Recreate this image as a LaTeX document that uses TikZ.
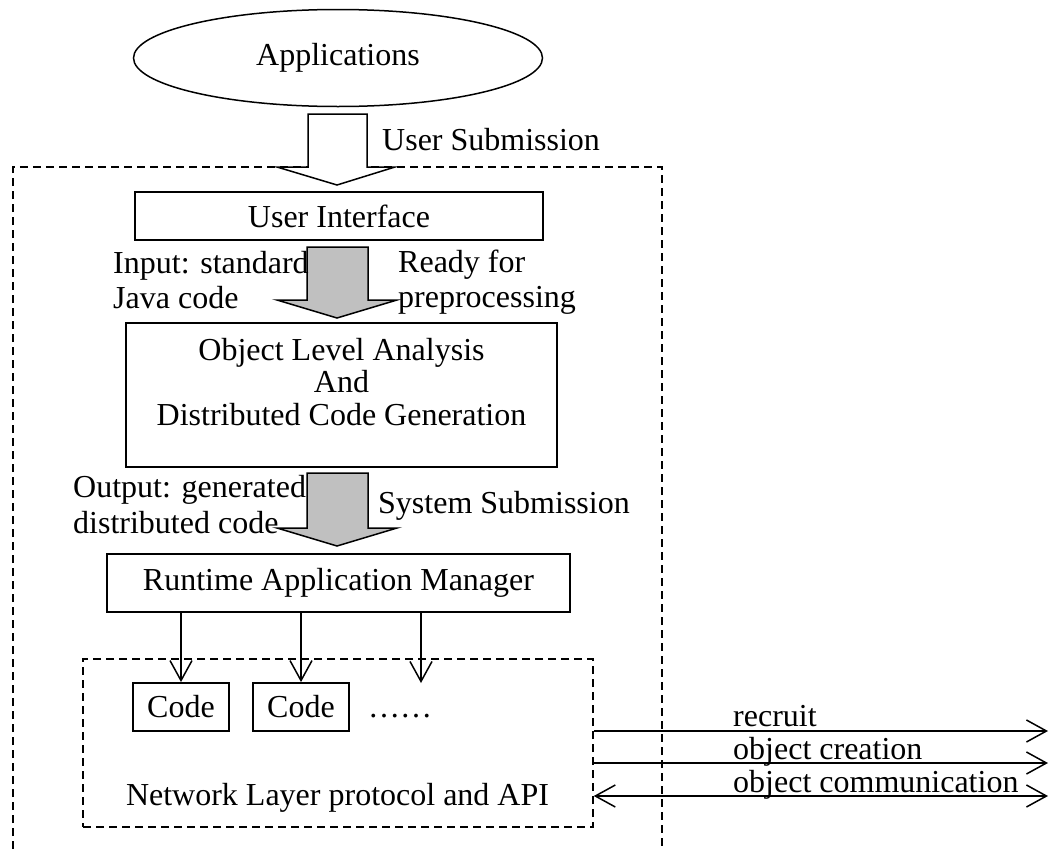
\documentclass[tikz,border=0pt]{standalone}
\usepackage{fontspec}
\setmainfont{Liberation Serif}
\usetikzlibrary{shapes.geometric,arrows.meta}
\definecolor{arrowgray}{RGB}{192,192,192}
\begin{document}
\begin{tikzpicture}[x=1pt,y=-1pt,
  every node/.style={font=\fontsize{32}{32.5}\selectfont},
  box/.style={draw,line width=1.8pt,inner sep=0pt},
  lbl/.style={anchor=base west,inner sep=0pt},
  dashbox/.style={draw,line width=1.5pt,dash pattern=on 8pt off 5pt},
  blockarrow/.style={draw,line width=1.5pt,line join=miter},
  conn/.style={line width=1.5pt,-{Straight Barb[length=20pt,width=22pt,line width=1.5pt]}},
  dconn/.style={line width=1.5pt,{Straight Barb[length=20pt,width=22pt,line width=1.5pt]}-{Straight Barb[length=20pt,width=22pt,line width=1.5pt]}},
]
\useasboundingbox (0,0) rectangle (1050,849);

% outer dashed frame (open at the bottom)
\draw[dashbox] (13,849) -- (13,167) -- (662,167) -- (662,849);

% Applications
\node[draw,ellipse,line width=1.5pt,minimum width=409pt,minimum height=97pt,inner sep=0pt] (app) at (338,58) {Applications};

% hollow block arrow
\draw[blockarrow,fill=white] (308,114) -- (367,114) -- (367,167) -- (395,167) -- (337,185) -- (277,167) -- (308,167) -- cycle;
\node[lbl] (us) at (382,150) {User Submission};

% User Interface
\node[box,minimum width=408pt,minimum height=48pt] (ui) at (339,216) {User Interface};

% grey arrow 1
\draw[blockarrow,fill=arrowgray] (307,247) -- (368,247) -- (368,300) -- (397,300) -- (337,318) -- (277,300) -- (307,300) -- cycle;
\node[lbl] (in1) at (113,273) {Input: standard};
\node[lbl] (in2) at (113,308) {Java code};
\node[lbl] (rf1) at (398,272) {Ready for};
\node[lbl] (rf2) at (398,307) {preprocessing};

% Object level analysis
\node[box,minimum width=431pt,minimum height=144pt] (ola) at (341.5,395) {};
\node[anchor=north,align=center,inner sep=0pt] (olat) at (341.5,338) {Object Level Analysis\\And\\Distributed Code Generation};

% grey arrow 2
\draw[blockarrow,fill=arrowgray] (307,473) -- (368,473) -- (368,528) -- (397,528) -- (337,546) -- (277,528) -- (307,528) -- cycle;
\node[lbl] (out1) at (73,497) {Output: generated};
\node[lbl] (out2) at (73,533) {distributed code};
\node[lbl] (ss) at (378,513) {System Submission};

% Runtime Application Manager
\node[box,minimum width=463pt,minimum height=58pt] (rt) at (338.5,583) {Runtime Application Manager};

% network layer box
\node[dashbox,minimum width=510pt,minimum height=168pt,inner sep=0pt] (nbox) at (338,743) {};
\node[box,minimum width=96pt,minimum height=48pt] (c1) at (181,707) {Code};
\node[box,minimum width=96pt,minimum height=48pt] (c2) at (301,707) {Code};
\node[lbl] (dots) at (368,717) {……};
\coordinate (c3) at (421,683);
\node[anchor=base,inner sep=0pt] (net) at (337.5,805) {Network Layer protocol and API};

\draw[conn] (rt.south -| c1.north) -- (c1.north);
\draw[conn] (rt.south -| c2.north) -- (c2.north);
\draw[conn] (rt.south -| c3) -- (c3);

% external arrows
\coordinate (r1) at (1048,731);
\coordinate (r2) at (1048,763);
\coordinate (r3) at (1048,796);
\draw[conn] (nbox.east |- r1) -- (r1);
\draw[conn] (nbox.east |- r2) -- (r2);
\draw[dconn] (nbox.east |- r3) -- (r3);
\node[lbl] (rc) at (733,726) {recruit};
\node[lbl] (oc) at (733,759) {object creation};
\node[lbl] (ocm) at (733,792) {object communication};
\end{tikzpicture}
\end{document}
